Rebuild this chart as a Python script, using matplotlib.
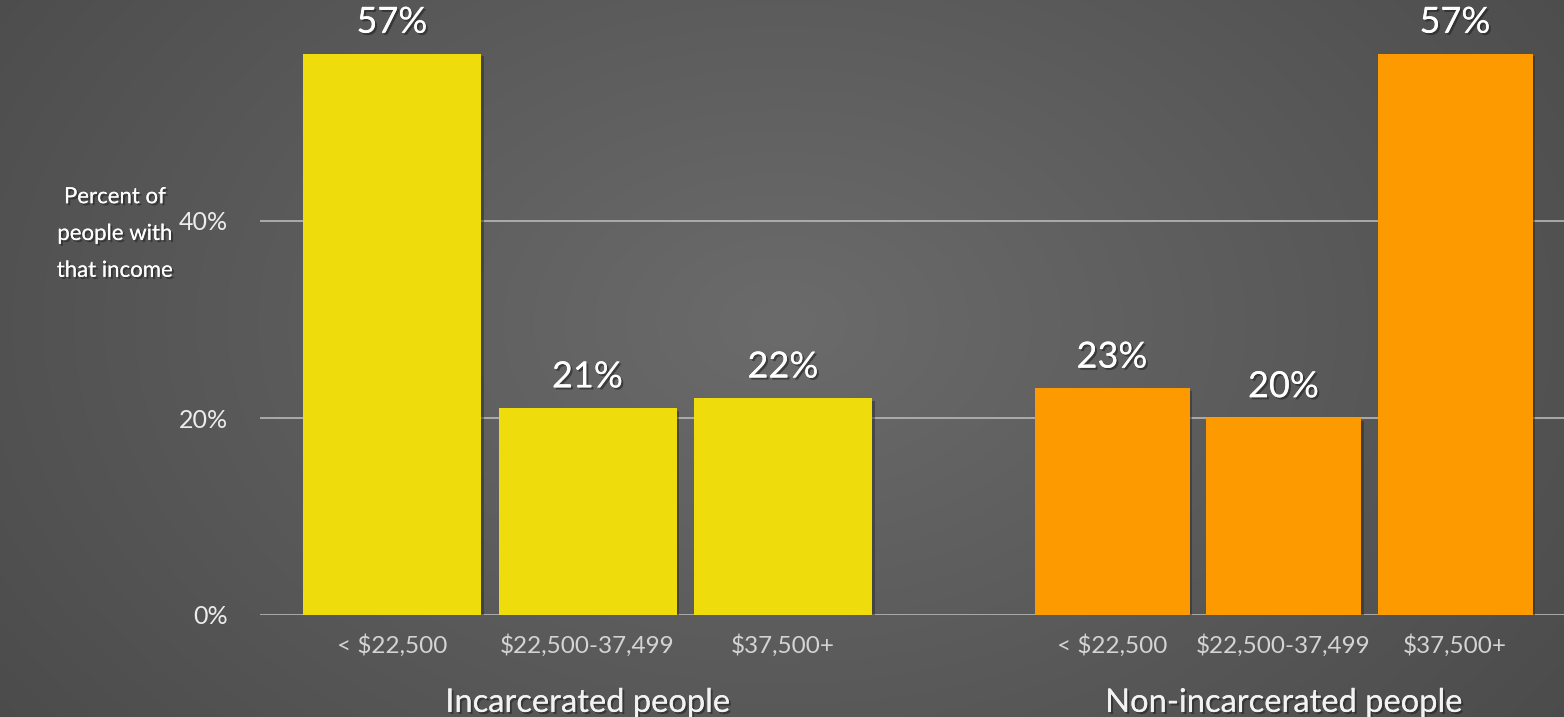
import matplotlib.pyplot as plt
import matplotlib.patheffects as pe
import numpy as np

plt.rcParams["font.family"] = ["Lato", "DejaVu Sans"]

# data
categories = ["< $22,500", "$22,500-37,499", "$37,500+"]
groups = ["Incarcerated people", "Non-incarcerated people"]
incarcerated = [57, 21, 22]
non_incarcerated = [23, 20, 57]
yticks = [0, 20, 40]

W, H = 1564, 717
fig = plt.figure(figsize=(W / 100, H / 100), dpi=100)

# radial gray background (RGB array, avoids colormap banding)
bg = fig.add_axes([0, 0, 1, 1], zorder=-10)
yy, xx = np.mgrid[0:H, 0:W]
r = np.sqrt(((xx - W * 0.5) / (W * 0.6)) ** 2 + ((yy - H * 0.45) / (H * 0.9)) ** 2)
shade = np.clip(0.42 - 0.12 * r, 0.29, 0.43)
bg.imshow(np.dstack([shade] * 3), aspect="auto", extent=(0, 1, 0, 1),
          interpolation="bilinear")
bg.axis("off")

ax = fig.add_axes([260 / W, (H - 615) / H, (W - 260) / W, 591 / H])
ax.set_facecolor("none")
ax.set_xlim(260, W)
ax.set_ylim(0, 60)

# layout of the two groups (pixel-like units along x)
layout = [
    (incarcerated, 392, 195.5, 178, "#efdc0c"),
    (non_incarcerated, 1112, 171.5, 155, "#fd9a00"),
]

shadow = [pe.withSimplePatchShadow(offset=(2, -2), shadow_rgbFace="#2a2a2a", alpha=0.5)]
text_shadow = [pe.withSimplePatchShadow(offset=(1.5, -1.5), shadow_rgbFace="#222222", alpha=0.6), pe.Normal()]

for (values, start, step, width, color), gname in zip(layout, groups):
    xs = start + step * np.arange(len(values))
    bars = ax.bar(xs, values, width=width, color=color, zorder=3)
    for b in bars:
        b.set_path_effects(shadow)
    for x, v, c in zip(xs, values, categories):
        ax.text(x, v + 1.5, f"{v}%", ha="center", va="bottom", fontsize=26,
                color="white", path_effects=text_shadow, zorder=4)
        ax.text(x, -1.9, c, ha="center", va="top", fontsize=17.5,
                color="#d4d4d4", clip_on=False)
    ax.text(xs[1], -7.4, gname, ha="center", va="top", fontsize=23.5,
            color="#f2f2f2", clip_on=False, path_effects=text_shadow)

for t in yticks:
    ax.axhline(t, color="#b8b8b8", lw=1.2, zorder=1)
ax.set_yticks(yticks)
ax.set_yticklabels([f"{t}%" for t in yticks], fontsize=18, color="#ececec")
ax.tick_params(axis="y", length=0, pad=23)
ax.set_xticks([])
for s in ax.spines.values():
    s.set_visible(False)

fig.text(115 / W, 1 - 234 / H, "Percent of\npeople with\nthat income", ha="center",
         va="center", fontsize=16, color="white", linespacing=2.05,
         path_effects=text_shadow)

fig.savefig("out.png", dpi=100)
